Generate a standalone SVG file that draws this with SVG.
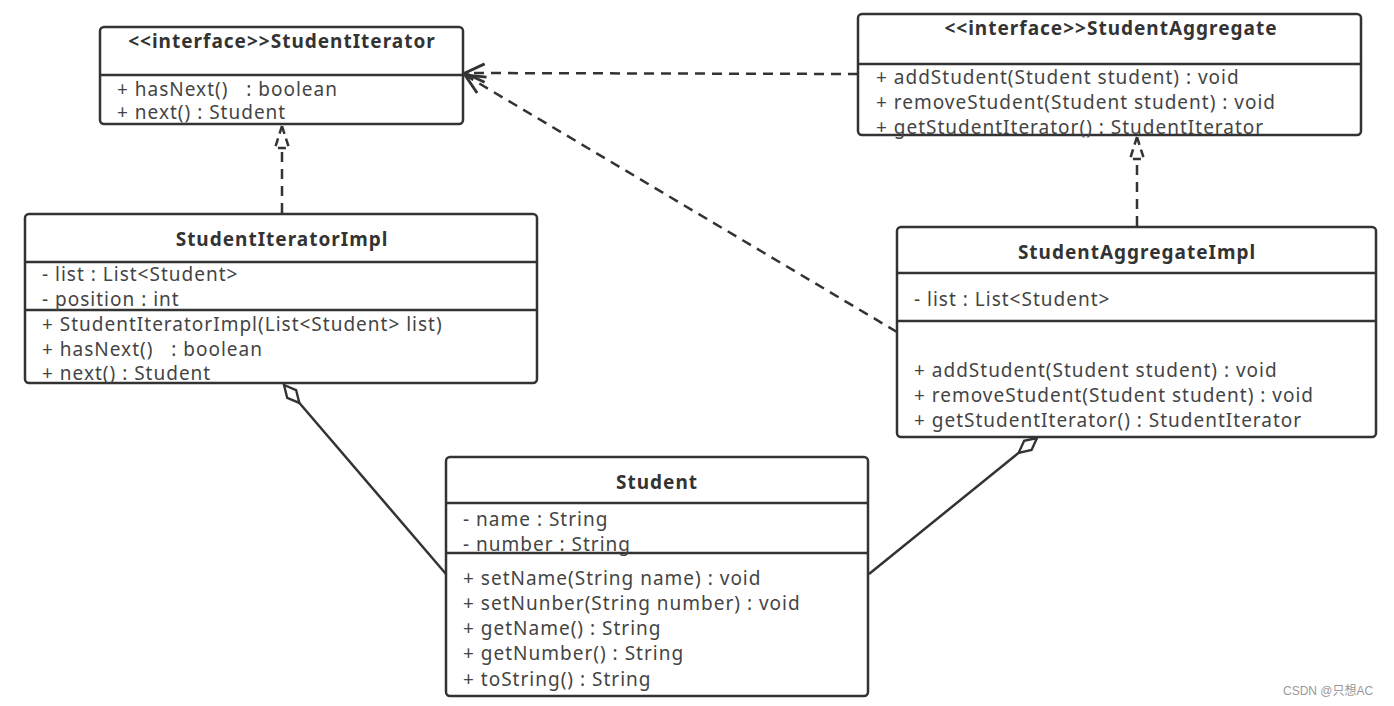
<svg xmlns="http://www.w3.org/2000/svg" width="1394" height="706" viewBox="0 0 1394 706">
<style>
.box{fill:#fff;stroke:#333;stroke-width:2.5}
.div{stroke:#333;stroke-width:2.5}
.title{font-family:"Noto Sans","Open Sans",sans-serif;font-size:19px;font-weight:bold;fill:#333;text-anchor:middle;letter-spacing:1px}
.mem{font-family:"Noto Sans","Open Sans",sans-serif;font-size:19px;fill:#444;letter-spacing:1px}
.dash{fill:none;stroke:#333;stroke-width:2.5;stroke-dasharray:10 7}
.tri{fill:#fff;stroke:#333;stroke-width:2.5;stroke-dasharray:8 5}
.solid{fill:none;stroke:#333;stroke-width:2.5}
</style>
<defs>
<marker id="open" markerUnits="userSpaceOnUse" markerWidth="30" markerHeight="30" viewBox="-2 -12 26 24" refX="20" refY="0" orient="auto">
<path d="M3,-8 L20,0 L3,8" fill="none" stroke="#333" stroke-width="2.5"/>
</marker>
<marker id="dia" markerUnits="userSpaceOnUse" markerWidth="30" markerHeight="20" viewBox="-2 -8 28 16" refX="0" refY="0" orient="auto">
<path d="M0,0 L11,-5.5 L22,0 L11,5.5 Z" fill="#fff" stroke="#333" stroke-width="2.2"/>
</marker>
</defs>

<g id="connectors">
<path class="dash" d="M282,213 L282,149"/>
<path class="tri" d="M282,126 L275,148 L289,148 Z"/>
<path class="dash" d="M1137,226 L1137,160"/>
<path class="tri" d="M1137,137 L1130,159 L1144,159 Z"/>
<path class="dash" d="M858,74 L465,73" marker-end="url(#open)"/>
<path class="dash" d="M897,332 L465,75" marker-end="url(#open)"/>
<path class="solid" d="M284,385 L446,574" marker-start="url(#dia)"/>
<path class="solid" d="M1037,438 L869,574" marker-start="url(#dia)"/>
</g>

<g id="StudentIterator">
<rect class="box" x="100" y="27" width="363" height="97" rx="4"/>
<line class="div" x1="100" y1="75" x2="463" y2="75"/>
<text class="title" x="282" y="48">&lt;&lt;interface&gt;&gt;StudentIterator</text>
<text class="mem" x="117" y="96" xml:space="preserve">+ hasNext()   : boolean</text>
<text class="mem" x="117" y="119">+ next() : Student</text>
</g>

<g id="StudentAggregate">
<rect class="box" x="858" y="14" width="503" height="121" rx="4"/>
<line class="div" x1="858" y1="64" x2="1361" y2="64"/>
<text class="title" x="1111" y="35">&lt;&lt;interface&gt;&gt;StudentAggregate</text>
<text class="mem" x="876" y="84">+ addStudent(Student student) : void</text>
<text class="mem" x="876" y="109">+ removeStudent(Student student) : void</text>
<text class="mem" x="876" y="134">+ getStudentIterator() : StudentIterator</text>
</g>

<g id="StudentIteratorImpl">
<rect class="box" x="25" y="214" width="512" height="169" rx="4"/>
<line class="div" x1="25" y1="262" x2="537" y2="262"/>
<line class="div" x1="25" y1="310" x2="537" y2="310"/>
<text class="title" x="282" y="246">StudentIteratorImpl</text>
<text class="mem" x="42" y="281">- list : List&lt;Student&gt;</text>
<text class="mem" x="42" y="306">- position : int</text>
<text class="mem" x="42" y="331">+ StudentIteratorImpl(List&lt;Student&gt; list)</text>
<text class="mem" x="42" y="356" xml:space="preserve">+ hasNext()   : boolean</text>
<text class="mem" x="42" y="380">+ next() : Student</text>
</g>

<g id="StudentAggregateImpl">
<rect class="box" x="897" y="227" width="479" height="210" rx="4"/>
<line class="div" x1="897" y1="273" x2="1376" y2="273"/>
<line class="div" x1="897" y1="321" x2="1376" y2="321"/>
<text class="title" x="1137" y="259">StudentAggregateImpl</text>
<text class="mem" x="914" y="306">- list : List&lt;Student&gt;</text>
<text class="mem" x="914" y="377">+ addStudent(Student student) : void</text>
<text class="mem" x="914" y="402">+ removeStudent(Student student) : void</text>
<text class="mem" x="914" y="427">+ getStudentIterator() : StudentIterator</text>
</g>

<g id="Student">
<rect class="box" x="446" y="457" width="422" height="239" rx="4"/>
<line class="div" x1="446" y1="503" x2="868" y2="503"/>
<line class="div" x1="446" y1="553" x2="868" y2="553"/>
<text class="title" x="657" y="489">Student</text>
<text class="mem" x="463" y="526">- name : String</text>
<text class="mem" x="463" y="551">- number : String</text>
<text class="mem" x="463" y="585">+ setName(String name) : void</text>
<text class="mem" x="463" y="610">+ setNunber(String number) : void</text>
<text class="mem" x="463" y="635">+ getName() : String</text>
<text class="mem" x="463" y="660">+ getNumber() : String</text>
<text class="mem" x="463" y="686">+ toString() : String</text>
</g>

<text x="1283" y="695" font-family="'Liberation Sans','Noto Sans CJK SC',sans-serif" font-size="12" fill="#999">CSDN @只想AC</text>
</svg>
